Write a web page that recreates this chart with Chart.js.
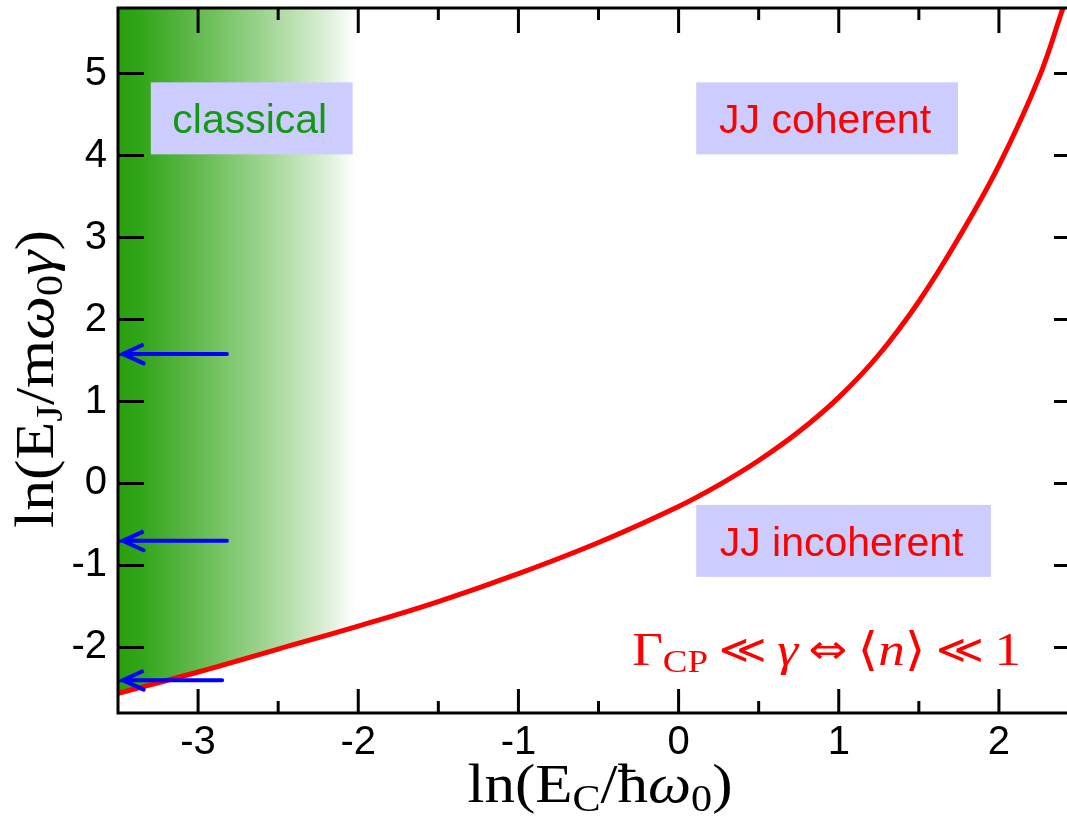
<!DOCTYPE html>
<html>
<head>
<meta charset="utf-8">
<script src="https://cdn.jsdelivr.net/npm/chart.js@4.4.1/dist/chart.umd.min.js"></script>
<style>
  html, body { margin: 0; padding: 0; background: #fff; }
  #wrap { width: 1067px; height: 816px; }
</style>
</head>
<body>
<div id="wrap"><canvas id="phase"></canvas></div>
<script>
// boundary curve, ln(EC/hw0) vs ln(EJ/mw0 gamma)
const lnEC = [-3.5, -3.0, -2.5, -2.0, -1.5, -1.0, -0.5, 0.0, 0.25, 0.5, 0.75, 1.0, 1.25, 1.5, 1.75, 2.0, 2.25, 2.4];
const lnEJ = [-2.56, -2.30, -2.02, -1.74, -1.44, -1.10, -0.72, -0.28, -0.02, 0.28, 0.63, 1.05, 1.57, 2.22, 3.0, 3.88, 4.95, 5.8];

// blue arrows (tail x, tip x, level)
const arrowLevels = [1.58, -0.70, -2.40];
const arrowTails = [-2.82, -2.82, -2.85];
const arrowTip = -3.47;

// axes
const xTicks = [-3, -2, -1, 0, 1, 2];
const xMinorTicks = [-2.5, -1.5, -0.5, 0.5, 1.5];
const yTicks = [-2, -1, 0, 1, 2, 3, 4, 5];
const classicalFadeEnd = -2.02;

const regionLabels = [
  { text: 'classical', color: '#109a10', x0: -3.295, x1: -2.035, y0: 4.893, y1: 4.015 },
  { text: 'JJ coherent', color: '#ff0000', x0: 0.11, x1: 1.744, y0: 4.893, y1: 4.015 },
  { text: 'JJ incoherent', color: '#ff0000', x0: 0.11, x1: 1.95, y0: -0.262, y1: -1.139 }
];

const SERIF = '"Liberation Serif", "DejaVu Serif", serif';
const SANS = '"Liberation Sans", Arial, sans-serif';

function fontOf(p) {
  return (p.italic ? 'italic ' : '') + p.size + 'px ' + (p.family || SERIF);
}

function drawRich(ctx, parts, x, y, targetWidth, align) {
  let total = 0;
  parts.forEach(p => {
    ctx.font = fontOf(p);
    p.w = ctx.measureText(p.t).width + (p.gap || 0);
    total += p.w;
  });
  const sx = targetWidth ? targetWidth / total : 1;
  ctx.save();
  ctx.translate(x, y);
  ctx.scale(sx, 1);
  let cx = align === 'center' ? -total / 2 : 0;
  ctx.textAlign = 'left';
  ctx.textBaseline = 'alphabetic';
  parts.forEach(p => {
    ctx.font = fontOf(p);
    ctx.fillText(p.t, cx + (p.gap || 0) / 2, p.dy || 0);
    cx += p.w;
  });
  ctx.restore();
}

const frame = {
  id: 'frame',
  afterDatasetsDraw(chart) {
    const { ctx, chartArea: a, scales: { x, y } } = chart;
    ctx.save();
    ctx.strokeStyle = '#000';
    ctx.lineWidth = 3;
    ctx.lineCap = 'butt';
    ctx.beginPath();
    ctx.moveTo(a.left, a.top); ctx.lineTo(a.right, a.top);
    ctx.moveTo(a.left, a.top - 1.5); ctx.lineTo(a.left, a.bottom + 1.5);
    ctx.moveTo(a.left, a.bottom); ctx.lineTo(a.right, a.bottom);
    xTicks.forEach(v => {
      const px = x.getPixelForValue(v);
      ctx.moveTo(px, a.bottom); ctx.lineTo(px, a.bottom - 24);
      ctx.moveTo(px, a.top); ctx.lineTo(px, a.top + 25);
    });
    xMinorTicks.forEach(v => {
      const px = x.getPixelForValue(v);
      ctx.moveTo(px, a.bottom); ctx.lineTo(px, a.bottom - 12);
      ctx.moveTo(px, a.top); ctx.lineTo(px, a.top + 12);
    });
    yTicks.forEach(v => {
      const py = y.getPixelForValue(v);
      ctx.moveTo(a.left, py); ctx.lineTo(a.left + 26, py);
      ctx.moveTo(a.right - 13, py); ctx.lineTo(a.right, py);
    });
    ctx.stroke();
    ctx.restore();
  },
  afterDraw(chart) {
    const { ctx, chartArea: a, scales: { x, y } } = chart;
    ctx.save();
    // region labels
    regionLabels.forEach(l => {
      const L = x.getPixelForValue(l.x0), R = x.getPixelForValue(l.x1);
      const T = y.getPixelForValue(l.y0), B = y.getPixelForValue(l.y1);
      ctx.fillStyle = '#ccccff';
      ctx.fillRect(L, T, R - L, B - T);
      ctx.fillStyle = l.color;
      ctx.font = '41px ' + SANS;
      ctx.textAlign = 'center';
      ctx.textBaseline = 'alphabetic';
      ctx.fillText(l.text, (L + R) / 2 - 2, T + 51);
    });
    // condition
    ctx.fillStyle = '#ff0000';
    drawRich(ctx, [
      { t: '\u0393', size: 46 },
      { t: 'CP', size: 32, dy: 7 },
      { t: '\u226A', size: 40, family: '"DejaVu Sans", sans-serif', gap: 18, dy: -2 },
      { t: '\u03B3', size: 46, italic: true },
      { t: '\u21D4', size: 40, family: '"DejaVu Sans", sans-serif', gap: 18, dy: -2 },
      { t: '\u27E8', size: 46, family: '"DejaVu Serif", serif' },
      { t: 'n', size: 46, italic: true },
      { t: '\u27E9', size: 46, family: '"DejaVu Serif", serif' },
      { t: '\u226A', size: 40, family: '"DejaVu Sans", sans-serif', gap: 18, dy: -2 },
      { t: '1', size: 46 }
    ], x.getPixelForValue(-0.29), y.getPixelForValue(-2.212), 389, 'left');
    // axis titles
    ctx.fillStyle = '#000';
    drawRich(ctx, [
      { t: 'ln(E', size: 55 },
      { t: 'C', size: 38, dy: 9 },
      { t: '/\u0127', size: 55 },
      { t: '\u03C9', size: 55, italic: true },
      { t: '0', size: 38, dy: 9 },
      { t: ')', size: 55 }
    ], 600, a.bottom + 89, 265, 'center');
    ctx.save();
    ctx.translate(53, 379);
    ctx.rotate(-Math.PI / 2);
    drawRich(ctx, [
      { t: 'ln(E', size: 55 },
      { t: 'J', size: 38, dy: 9 },
      { t: '/m', size: 55 },
      { t: '\u03C9', size: 55, italic: true },
      { t: '0', size: 38, dy: 9 },
      { t: '\u03B3', size: 55, italic: true },
      { t: ')', size: 55 }
    ], 0, 0, 298, 'center');
    ctx.restore();
    ctx.restore();
  }
};

function classicalFill(context) {
  const chart = context.chart;
  const a = chart.chartArea;
  if (!a) return 'rgba(0,0,0,0)';
  const x = chart.scales.x;
  const g = chart.ctx.createLinearGradient(a.left, 0, x.getPixelForValue(classicalFadeEnd), 0);
  g.addColorStop(0, '#27a00e');
  g.addColorStop(0.1, '#32a51a');
  g.addColorStop(0.4, '#70c05d');
  g.addColorStop(0.65, '#a6d79a');
  g.addColorStop(0.88, '#dcefd7');
  g.addColorStop(1, '#ffffff');
  return g;
}

const arrowSets = arrowLevels.map((lv, i) => ({
  data: [
    { x: arrowTails[i], y: lv },
    { x: arrowTip, y: lv },
    { x: arrowTip + 0.13, y: lv + 0.115 },
    { x: arrowTip, y: lv },
    { x: arrowTip + 0.13, y: lv - 0.115 }
  ],
  borderColor: '#0000ff',
  borderWidth: 4,
  pointRadius: 0,
  tension: 0,
  fill: false,
  borderCapStyle: 'round',
  borderJoinStyle: 'miter'
}));

new Chart(document.getElementById('phase'), {
  type: 'line',
  data: {
    datasets: [
      ...arrowSets,
      {
        data: lnEC.map((v, i) => ({ x: v, y: lnEJ[i] })),
        borderColor: '#ff0000',
        borderWidth: 5,
        pointRadius: 0,
        tension: 0.4,
        fill: 'end',
        backgroundColor: classicalFill
      }
    ]
  },
  options: {
    responsive: true,
    maintainAspectRatio: false,
    animation: false,
    layout: { padding: { top: 8, right: 0, left: 0, bottom: 0 } },
    plugins: { legend: { display: false }, tooltip: { enabled: false } },
    scales: {
      x: {
        type: 'linear',
        min: -3.5,
        max: 2.425,
        grid: { display: false, drawTicks: false },
        border: { display: false },
        afterBuildTicks: s => { s.ticks = xTicks.map(v => ({ value: v })); },
        afterFit: s => { s.height = 103; s.paddingLeft = 0; s.paddingRight = 0; },
        ticks: { font: { family: SANS, size: 40 }, color: '#000', padding: 6 }
      },
      y: {
        min: -2.8,
        max: 5.8,
        grid: { display: false, drawTicks: false },
        border: { display: false },
        afterBuildTicks: s => { s.ticks = yTicks.map(v => ({ value: v })); },
        afterFit: s => { s.width = 118; s.paddingTop = 0; s.paddingBottom = 0; },
        ticks: { font: { family: SANS, size: 40 }, color: '#000', padding: 11 }
      }
    }
  },
  plugins: [frame]
});
</script>
</body>
</html>
